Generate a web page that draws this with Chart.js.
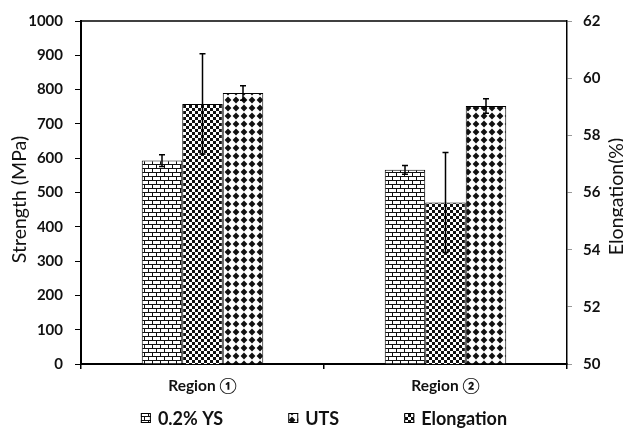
<!DOCTYPE html>
<html>
<head>
<meta charset="utf-8">
<script src="https://cdn.jsdelivr.net/npm/chart.js@4.4.1/dist/chart.umd.min.js"></script>
<style>
  html, body { margin: 0; padding: 0; background: #fff; }
  #wrap { width: 623px; height: 430px; }
</style>
</head>
<body>
<div id="wrap"><canvas id="chart"></canvas></div>
<script>
// values
const categories = ['Region \u2460', 'Region \u2461'];
const ysValues = [593, 566];
const ysErrors = [17, 13];
const utsValues = [790, 752];
const utsErrors = [21, 21];
const elongationValues = [59.1, 55.65];
const elongationErrors = [1.75, 1.75];
const strengthRange = [0, 1000, 100];
const elongationRange = [50, 62, 2];
const legendOrder = ['0.2% YS', 'UTS', 'Elongation'];

const FONT = "Lato, 'DejaVu Sans', sans-serif";
const TEXT = '#111';

function makePattern(w, h, draw) {
    const c = document.createElement('canvas');
    c.width = w;
    c.height = h;
    const g = c.getContext('2d');
    g.fillStyle = '#fff';
    g.fillRect(0, 0, w, h);
    g.fillStyle = '#111';
    draw(g);
    return c.getContext('2d').createPattern(c, 'repeat');
}

const brick = makePattern(8, 8, g => {
    g.fillRect(0, 0, 8, 1);
    g.fillRect(0, 4, 8, 1);
    g.fillRect(0, 1, 1, 3);
    g.fillRect(4, 5, 1, 3);
});
const checker = makePattern(6, 6, g => {
    g.fillRect(0, 0, 3, 3);
    g.fillRect(3, 3, 3, 3);
});
const diamond = makePattern(8, 8, g => {
    g.beginPath();
    g.moveTo(4, 0.6);
    g.lineTo(7.4, 4);
    g.lineTo(4, 7.4);
    g.lineTo(0.6, 4);
    g.closePath();
    g.fill();
});

// error bars drawn from each dataset's errors through its own y scale
const errorBars = {
    id: 'errorBars',
    afterDatasetsDraw(chart) {
        const ctx = chart.ctx;
        ctx.save();
        ctx.strokeStyle = '#000';
        ctx.lineWidth = 1.5;
        chart.data.datasets.forEach((ds, i) => {
            const meta = chart.getDatasetMeta(i);
            const scale = chart.scales[meta.yAxisID];
            meta.data.forEach((bar, j) => {
                const top = scale.getPixelForValue(ds.data[j] + ds.errors[j]);
                const bot = scale.getPixelForValue(ds.data[j] - ds.errors[j]);
                ctx.beginPath();
                ctx.moveTo(bar.x, top);
                ctx.lineTo(bar.x, bot);
                ctx.moveTo(bar.x - 3, top);
                ctx.lineTo(bar.x + 3, top);
                ctx.moveTo(bar.x - 3, bot);
                ctx.lineTo(bar.x + 3, bot);
                ctx.stroke();
            });
        });
        ctx.restore();
    }
};

// top frame line, axis titles and the legend row
const decorations = {
    id: 'decorations',
    afterDraw(chart) {
        const ctx = chart.ctx;
        const area = chart.chartArea;
        ctx.save();
        ctx.strokeStyle = '#000';
        ctx.lineWidth = 1.5;
        ctx.beginPath();
        ctx.moveTo(area.left, area.top);
        ctx.lineTo(area.right, area.top);
        ctx.stroke();

        ctx.fillStyle = TEXT;
        ctx.font = '19.5px ' + FONT;
        ctx.textAlign = 'center';
        ctx.textBaseline = 'alphabetic';
        ctx.save();
        ctx.translate(26, 199.5);
        ctx.rotate(-Math.PI / 2);
        ctx.fillText('Strength (MPa)', 0, 0);
        ctx.restore();
        ctx.save();
        ctx.translate(622.5, 196.5);
        ctx.rotate(-Math.PI / 2);
        ctx.fillText('Elongation(%)', 0, 0);
        ctx.restore();

        // legend
        ctx.font = 'bold 18px ' + FONT;
        ctx.textAlign = 'left';
        ctx.textBaseline = 'middle';
        const items = legendOrder.map(name => {
            const ds = chart.data.datasets.find(d => d.label === name);
            return { text: name, fill: ds.backgroundColor, w: 17 + ctx.measureText(name).width };
        });
        const gap = 65;
        const total = items.reduce((s, it) => s + it.w, 0) + gap * (items.length - 1);
        let x = (area.left + area.right) / 2 - total / 2;
        const y = 418;
        items.forEach(it => {
            ctx.fillStyle = it.fill;
            ctx.fillRect(x, y - 5, 10, 10);
            ctx.lineWidth = 1;
            ctx.strokeStyle = '#000';
            ctx.strokeRect(x + 0.5, y - 4.5, 9, 9);
            ctx.fillStyle = TEXT;
            ctx.fillText(it.text, x + 17, y + 1);
            x += it.w + gap;
        });
        ctx.restore();
    }
};

const ctx = document.getElementById('chart');
new Chart(ctx, {
    type: 'bar',
    data: {
        labels: categories,
        datasets: [
            { label: '0.2% YS', data: ysValues, errors: ysErrors, yAxisID: 'y', backgroundColor: brick },
            { label: 'Elongation', data: elongationValues, errors: elongationErrors, yAxisID: 'y2', backgroundColor: checker },
            { label: 'UTS', data: utsValues, errors: utsErrors, yAxisID: 'y', backgroundColor: diamond }
        ]
    },
    options: {
        responsive: true,
        maintainAspectRatio: false,
        animation: false,
        layout: { padding: { top: 15, bottom: 0, left: 0, right: 0 } },
        datasets: {
            bar: {
                borderColor: '#000',
                borderWidth: 1,
                categoryPercentage: 0.5,
                barPercentage: 1
            }
        },
        plugins: {
            legend: { display: false },
            tooltip: { enabled: false }
        },
        scales: {
            x: {
                offset: true,
                grid: { offset: true, drawOnChartArea: false, tickLength: 5, color: '#000', lineWidth: 1.5 },
                border: { color: '#000', width: 2 },
                ticks: { color: TEXT, padding: 8, font: { family: FONT, size: 15.5, weight: 'bold' } },
                afterFit: s => { s.height = 66; }
            },
            y: {
                position: 'left',
                min: strengthRange[0],
                max: strengthRange[1],
                ticks: {
                    stepSize: strengthRange[2], color: TEXT, padding: 12,
                    font: { family: FONT, size: 15, weight: 'bold' },
                    callback: v => String(v)
                },
                grid: { drawOnChartArea: false, tickLength: 6, color: '#000' },
                border: { color: '#000', width: 2 },
                afterFit: s => { s.width = 81; }
            },
            y2: {
                position: 'right',
                min: elongationRange[0],
                max: elongationRange[1],
                ticks: {
                    stepSize: elongationRange[2], color: TEXT, padding: 11,
                    font: { family: FONT, size: 15, weight: 'bold' },
                    callback: v => String(v)
                },
                grid: { drawOnChartArea: false, tickLength: 5, color: '#999' },
                border: { color: '#000', width: 1.5 },
                afterFit: s => { s.width = 56; }
            }
        }
    },
    plugins: [errorBars, decorations]
});
</script>
</body>
</html>
